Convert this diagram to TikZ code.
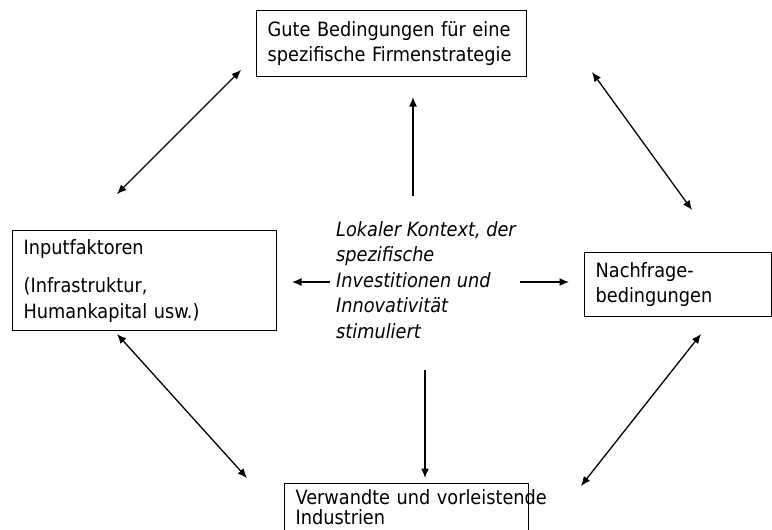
\documentclass[tikz,border=0pt]{standalone}
\usepackage{fontspec}
\setmainfont{DejaVu Sans Condensed}
\usetikzlibrary{arrows.meta}
\begin{document}
\begin{tikzpicture}[x=1pt,y=-1pt,
  txt/.style={font=\fontsize{19.7}{25.5}\selectfont},
  box/.style={txt, draw, line width=1.3pt, align=left, anchor=north west,
    inner xsep=11pt, inner ysep=0pt},
  tip/.tip={Latex[length=9.5pt,width=8pt]},
  dbl/.style={tip-tip, line width=1.3pt},
  one/.style={-tip, line width=1.3pt}]
\clip (0,0) rectangle (772,530);
\fill[white] (0,0) rectangle (772,530);
% boxes
\node[box, minimum width=270pt, minimum height=66pt, text width=248pt] (firm) at (256,10)
  {\mbox{Gute Bedingungen für eine}\\\mbox{spezifische Firmenstrategie}};
\node[box, minimum width=264pt, minimum height=100pt, text width=242pt] (input) at (12,230)
  {\mbox{Inputfaktoren}\\[13pt]\mbox{(Infrastruktur,}\\\mbox{Humankapital usw.)}};
\node[box, minimum width=187pt, minimum height=64pt, text width=165pt] (nach) at (584,252)
  {\mbox{Nachfrage-}\\\mbox{bedingungen}};
\node[box, minimum width=244pt, minimum height=48pt, text width=222pt,
  font=\fontsize{19.7}{20}\selectfont] (ind) at (284,483)
  {\mbox{Verwandte und vorleistende}\\\mbox{Industrien}};
% centre text
\node[txt, font=\fontsize{19.7}{25.5}\selectfont\itshape, align=left, anchor=north west,
  inner sep=0pt] (ctx) at (336,221)
  {Lokaler Kontext, der\\spezifische\\Investitionen und\\Innovativität\\stimuliert};
% arrow end points
\coordinate (a1s) at (117,194); \coordinate (a1e) at (241,70);
\coordinate (a2s) at (592,72);  \coordinate (a2e) at (692,210);
\coordinate (a3s) at (117,334); \coordinate (a3e) at (247,478);
\coordinate (a4s) at (701,334); \coordinate (a4e) at (581,486);
\coordinate (up1) at (413,196); \coordinate (up2) at (413,97);
\coordinate (dn1) at (425,370); \coordinate (dn2) at (425,478);
\coordinate (lf1) at (330,282); \coordinate (lf2) at (292,282);
\coordinate (rt1) at (520,282); \coordinate (rt2) at (569,282);
% arrows
\draw[dbl] (a1s) -- (a1e);
\draw[dbl] (a2s) -- (a2e);
\draw[dbl] (a3s) -- (a3e);
\draw[dbl] (a4s) -- (a4e);
\draw[one] (up1) -- (up2);
\draw[one] (dn1) -- (dn2);
\draw[one] (lf1) -- (lf2);
\draw[one] (rt1) -- (rt2);
\end{tikzpicture}
\end{document}
